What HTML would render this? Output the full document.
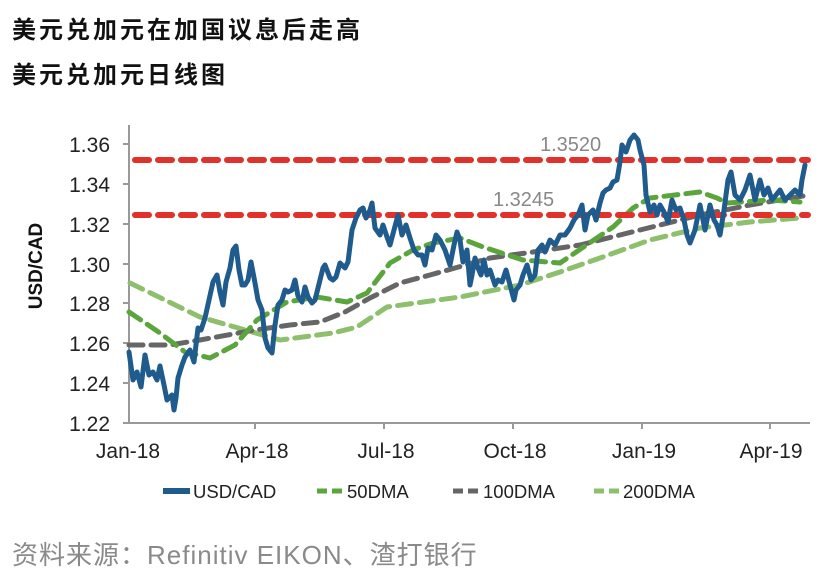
<!DOCTYPE html>
<html><head><meta charset="utf-8"><style>
body{margin:0;width:834px;height:582px;background:#fff;overflow:hidden;font-family:"Liberation Sans","Noto Sans CJK SC",sans-serif;}
.t{position:absolute;left:12px;font-weight:bold;font-size:24px;letter-spacing:3px;color:#111;line-height:30px;}
</style></head><body>
<div class="t" style="top:16px">美元兑加元在加国议息后走高</div>
<div class="t" style="top:61px">美元兑加元日线图</div>
<div style="position:absolute;left:12px;top:539px;font-size:26px;line-height:32px;color:#8a8a8a;letter-spacing:1px;">资料来源：Refinitiv EIKON、渣打银行</div>
<svg width="834" height="582" style="position:absolute;left:0;top:0" font-family="Liberation Sans, sans-serif">
<g stroke="#999" stroke-width="2">
<line x1="129" y1="125" x2="129" y2="423"/><line x1="129" y1="423" x2="810" y2="423"/>
<line x1="123" y1="144" x2="129" y2="144"/><line x1="123" y1="184" x2="129" y2="184"/><line x1="123" y1="224" x2="129" y2="224"/><line x1="123" y1="264" x2="129" y2="264"/><line x1="123" y1="303" x2="129" y2="303"/><line x1="123" y1="343" x2="129" y2="343"/><line x1="123" y1="383" x2="129" y2="383"/><line x1="123" y1="423" x2="129" y2="423"/>
<line x1="255" y1="423" x2="255" y2="429"/><line x1="384" y1="423" x2="384" y2="429"/><line x1="513" y1="423" x2="513" y2="429"/><line x1="642" y1="423" x2="642" y2="429"/><line x1="770" y1="423" x2="770" y2="429"/>
</g>
<g font-size="21" fill="#222" text-anchor="end">
<text x="110" y="152">1.36</text><text x="110" y="192">1.34</text><text x="110" y="232">1.32</text><text x="110" y="272">1.30</text><text x="110" y="311">1.28</text><text x="110" y="351">1.26</text><text x="110" y="391">1.24</text><text x="110" y="431">1.22</text>
</g>
<g font-size="21" fill="#222" text-anchor="middle">
<text x="128" y="458">Jan-18</text><text x="257" y="458">Apr-18</text><text x="386" y="458">Jul-18</text><text x="515" y="458">Oct-18</text><text x="644" y="458">Jan-19</text><text x="771" y="458">Apr-19</text>
</g>
<text transform="translate(42,266) rotate(-90)" font-size="19" font-weight="bold" text-anchor="middle" fill="#111">USD/CAD</text>
<g fill="none" stroke-linecap="round">
<polyline stroke="#8dbf6c" stroke-width="5" stroke-dasharray="14 8" points="130,283 200,317 280,340 333,333 357,327 387,307 460,297 520,285 560,272 600,258 650,240 700,228 750,222 800,218"/>
<polyline stroke="#666" stroke-width="5" stroke-dasharray="14 8" points="129,345 170,345 200,340 255,330 290,325 320,322 345,312 370,298 400,283 430,275 455,268 490,258 533,252 580,245 640,230 700,215 750,205 803,196"/>
<polyline stroke="#5aa63c" stroke-width="5" stroke-dasharray="14 8" points="129,312 160,333 185,352 210,358 235,345 257,320 287,302 317,297 347,302 367,293 390,263 413,250 433,243 460,238 483,247 523,260 560,263 613,227 633,208 650,198 700,192 717,198 727,203 770,200 800,202"/>
<line x1="135" y1="160" x2="808" y2="160" stroke="#e2302a" stroke-width="6" stroke-dasharray="14 9"/>
<line x1="135" y1="215" x2="808" y2="215" stroke="#e2302a" stroke-width="6" stroke-dasharray="14 9"/>
<polyline stroke="#1f5b8c" stroke-width="5" stroke-linejoin="round" points="129,352 133,380 137,372 141,387 145,355 149,375 153,372 157,380 160,366 164,385 167,400 172,395 174,410 176,398 178,378 182,365 185,357 190,350 194,362 196,345 198,328 201,330 205,318 209,300 213,282 217,275 220,292 223,305 226,282 230,268 233,250 236,246 239,270 242,285 245,285 248,280 251,262 255,283 258,300 262,310 265,338 268,348 272,353 275,325 278,305 282,300 285,290 288,292 292,290 295,280 298,296 302,302 305,287 308,297 312,303 315,300 320,280 323,268 325,265 330,278 333,280 336,277 340,263 345,268 348,262 352,230 356,218 360,210 363,208 366,218 370,210 372,203 375,228 380,235 383,225 387,237 390,245 394,230 398,215 402,235 406,225 410,238 414,250 418,255 422,255 425,265 428,248 432,250 436,235 440,240 445,250 450,265 454,245 457,232 460,240 463,262 467,250 470,285 472,275 475,258 478,268 481,275 484,260 487,275 490,270 495,285 498,280 502,282 506,270 510,285 514,300 516,290 520,285 523,275 527,265 531,280 535,275 538,250 542,245 545,252 550,240 555,245 560,235 565,235 570,228 574,220 578,215 582,205 585,230 588,215 593,210 596,220 600,203 603,193 606,190 610,188 613,182 617,180 620,162 622,145 626,152 630,140 634,135 638,140 640,150 644,165 646,195 650,212 654,205 657,215 660,205 664,212 668,222 672,200 676,210 680,208 684,220 687,235 690,243 695,230 700,205 705,230 710,205 714,220 717,225 720,235 724,210 728,180 731,172 735,195 740,200 745,190 750,175 755,200 760,180 764,195 768,188 772,200 776,195 780,190 785,200 790,195 795,190 800,195 802,180 805,165"/>
</g>
<text x="540" y="151" font-size="20" fill="#888">1.3520</text>
<text x="493" y="206" font-size="20" fill="#888">1.3245</text>
<g font-size="18.5" fill="#222">
<line x1="163" y1="491" x2="190" y2="491" stroke="#1f5b8c" stroke-width="6"/><text x="193" y="498">USD/CAD</text>
<line x1="317" y1="491" x2="343" y2="491" stroke="#5aa63c" stroke-width="5" stroke-dasharray="10 5"/><text x="347" y="498">50DMA</text>
<line x1="453" y1="491" x2="480" y2="491" stroke="#666" stroke-width="5" stroke-dasharray="10 5"/><text x="483" y="498">100DMA</text>
<line x1="594" y1="491" x2="620" y2="491" stroke="#8dbf6c" stroke-width="5" stroke-dasharray="10 5"/><text x="623" y="498">200DMA</text>
</g>
</svg>
</body></html>
